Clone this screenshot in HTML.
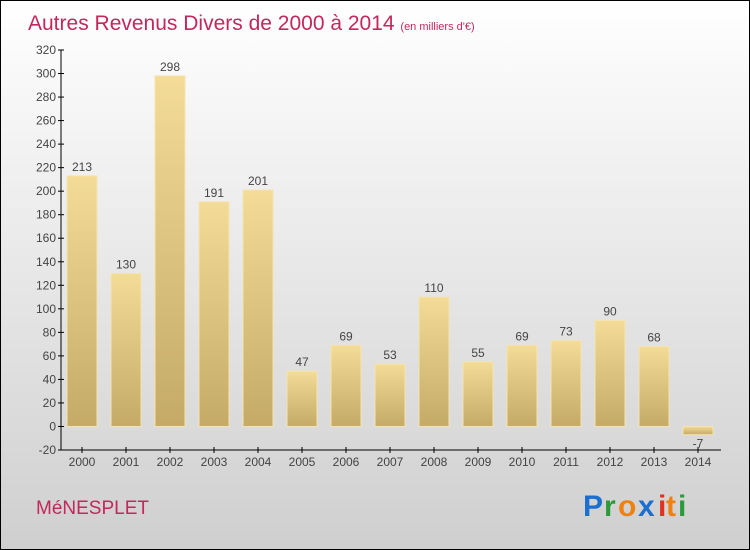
<!DOCTYPE html>
<html><head><meta charset="utf-8"><style>
body{margin:0;width:750px;height:550px;overflow:hidden}
svg{display:block}
text{font-family:"Liberation Sans",sans-serif}
</style></head><body>
<svg id="c" width="750" height="550" xmlns="http://www.w3.org/2000/svg">
<defs>
<linearGradient id="bg" x1="0" y1="0" x2="0" y2="1"><stop offset="0" stop-color="#ffffff"/><stop offset="1" stop-color="#cfcfcf"/></linearGradient>
<linearGradient id="bar" x1="0" y1="0" x2="0" y2="1"><stop offset="0" stop-color="#f3dc97"/><stop offset="1" stop-color="#c4aa66"/></linearGradient>
</defs>
<rect x="0.5" y="0.5" width="749" height="549" fill="url(#bg)" stroke="#000"/>
<text x="28" y="30" font-size="21" fill="#c2285a">Autres Revenus Divers de 2000 à 2014 <tspan font-size="11">(en milliers d'€)</tspan></text>
<text x="36" y="514" font-size="19" fill="#c2285a">MéNESPLET</text>
<g font-size="30" font-weight="bold">
<text x="583" y="516" fill="#1a6fd0">P</text><text x="604" y="516" fill="#2a9a3a">r</text><text x="618" y="516" fill="#f08010">o</text><text x="638" y="516" fill="#1a6fd0">x</text><text x="658" y="516" fill="#e03020">i</text><text x="666" y="516" fill="#f08010">t</text><text x="678" y="516" fill="#2a9a3a">i</text>
</g>
<g id="plot"></g>
</svg>
<script>
const categories=["2000","2001","2002","2003","2004","2005","2006","2007","2008","2009","2010","2011","2012","2013","2014"];
const values=[213,130,298,191,201,47,69,53,110,55,69,73,90,68,-7];
const yTicks=[-20,0,20,40,60,80,100,120,140,160,180,200,220,240,260,280,300,320];
const yMin=-20,yMax=320,pTop=50,pBottom=450,pLeft=61,pRight=721,band=44,x0=60,bw=30;
const y=v=>pBottom-(v-yMin)/(yMax-yMin)*(pBottom-pTop);
const xc=i=>x0+band*i+band/2;
const g=document.getElementById('plot');
const NS="http://www.w3.org/2000/svg";
function mk(t,a){const e=document.createElementNS(NS,t);for(const k in a)e.setAttribute(k,a[k]);g.appendChild(e);return e;}
values.forEach((v,i)=>{
 const y1=Math.min(y(v),y(0)),h=Math.abs(y(v)-y(0));
 const r=mk('rect',{x:xc(i)-bw/2,y:y1,width:bw,height:h,fill:'url(#bar)',stroke:'#f5e4b0','stroke-width':1});
 
 
 const t=mk('text',{x:xc(i),y:v>=0?y(v)-5:y(0)+h+13,'font-size':12,fill:'#444','text-anchor':'middle'});
 t.textContent=v;
 
 
 const tk=mk('line',{x1:xc(i),x2:xc(i),y1:pBottom-3,y2:pBottom+3,stroke:'#000'});
 
 
 const xl=mk('text',{x:xc(i),y:pBottom+16,'font-size':12,fill:'#444','text-anchor':'middle'});
 xl.textContent=categories[i];
 
 
});
yTicks.forEach(v=>{
 const tk=mk('line',{x1:pLeft-3,x2:pLeft+3,y1:y(v),y2:y(v),stroke:'#000'});
 
 
 const t=mk('text',{x:pLeft-5,y:y(v)+4,'font-size':12,fill:'#444','text-anchor':'end'});
 t.textContent=v;
 
 
});
const ya=mk('line',{x1:pLeft,x2:pLeft,y1:pTop,y2:pBottom,stroke:'#000'});


const xa=mk('line',{x1:pLeft,x2:pRight,y1:pBottom,y2:pBottom,stroke:'#000'});


</script>
</body></html>
